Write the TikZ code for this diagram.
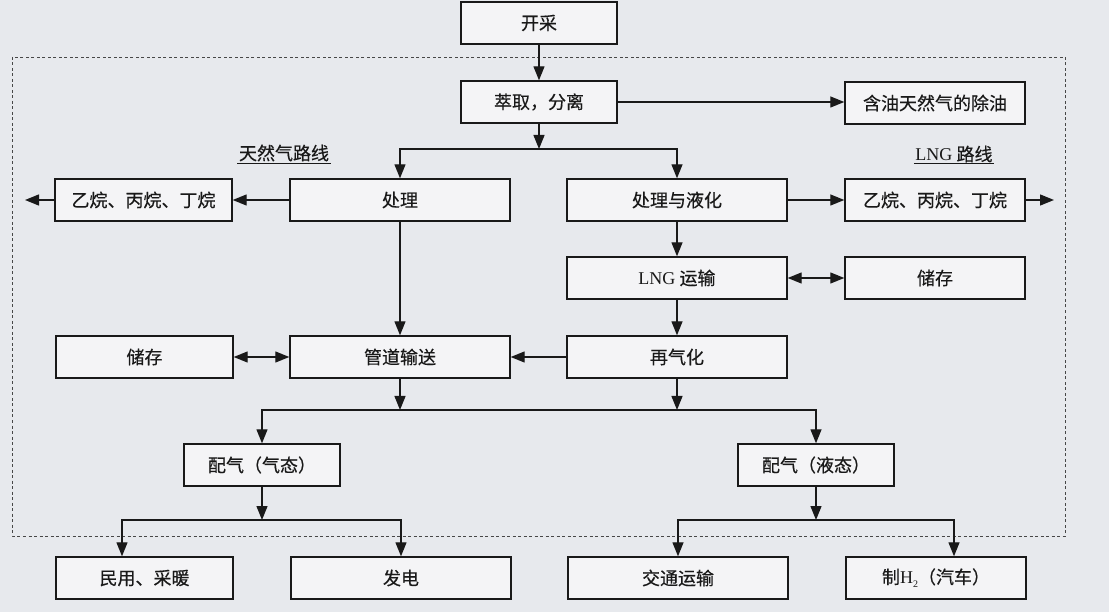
\documentclass[tikz,border=0pt]{standalone}
\usepackage{fontspec}
\setmainfont{Liberation Serif}
\newfontfamily\cjk[FakeBold=0.4]{Noto Sans CJK SC}
\usetikzlibrary{arrows.meta,calc}
\definecolor{bg}{RGB}{231,233,237}
\definecolor{boxfill}{RGB}{244,244,246}
\definecolor{ink}{RGB}{25,25,25}
\begin{document}
\begin{tikzpicture}[x=1pt,y=-1pt,
  box/.style={draw=ink,fill=boxfill,line width=1.4pt,minimum height=42pt,inner sep=0pt,
    text=ink,font=\fontsize{18}{21}\selectfont\cjk},
  wA/.style={minimum width=177pt},
  wB/.style={minimum width=220pt},
  wC/.style={minimum width=180pt},
  wD/.style={minimum width=156pt},
  lab/.style={inner sep=1.5pt,text=ink,font=\fontsize{18}{21}\selectfont\cjk},
  ln/.style={draw=ink,line width=1.3pt},
  arr/.style={draw=ink,line width=1.3pt,-{Triangle[length=14pt,width=11pt]}},
  darr/.style={draw=ink,line width=1.3pt,{Triangle[length=14pt,width=11pt]}-{Triangle[length=14pt,width=11pt]}},
  frame/.style={draw=ink!80,line width=0.9pt,dash pattern=on 3pt off 2.5pt}
]
\fill[bg] (0,0) rectangle (1109,612);
\useasboundingbox (0,0) rectangle (1109,612);

% dashed frame
\draw[frame] (12.5,57) rectangle (1065,536);

% nodes
\node[box,wD] (kc)   at (539,23)  {开采};
\node[box,wD] (cq)   at (539,102) {萃取，分离};
\node[box,wC] (cy)   at (935,103)   {含油天然气的除油};

\node[lab] (labL) at (284,153) {天然气路线};
\node[lab] (labR) at (954,154) {{\rmfamily LNG} 路线};

\node[box,wA] (ywL)  at (143.5,200) {乙烷、丙烷、丁烷};
\node[box,wB] (chuli) at (400,200)  {处理};
\node[box,wB] (clyh) at (677,200)   {处理与液化};
\node[box,wC] (ywR)  at (935,200)   {乙烷、丙烷、丁烷};

\node[box,wB] (lng)  at (677,278)   {{\rmfamily LNG} 运输};
\node[box,wC] (ccR)  at (935,278)   {储存};

\node[box,wA] (ccL)  at (144.5,357) {储存};
\node[box,wB] (gd)   at (400,357)   {管道输送};
\node[box,wB] (zqh)  at (677,357)   {再气化};

\node[box,wD] (pqG)  at (262,465) {配气（气态）};
\node[box,wD] (pqL)  at (816,465) {配气（液态）};

\node[box,wA] (my)   at (144.5,578) {民用、采暖};
\node[box,wB] (fd)   at (401,578)   {发电};
\node[box,wB] (jt)   at (678,578)   {交通运输};
\node[box,wC] (zh)   at (936,578)   {制{\rmfamily H\raisebox{-4pt}{\fontsize{10}{10}\selectfont 2}}（汽车）};

% underlines of route labels
\draw[ln,line width=1pt] (labL.south west) -- (labL.south east);
\draw[ln,line width=1pt] (labR.south west) -- (labR.south east);

% connectors
\draw[arr] (kc.south) -- (cq.north);
\draw[arr] (cq.east) -- (cq.east -| cy.west);

\coordinate (b1) at (539,149);
\draw[arr] (cq.south) -- (b1);
\draw[arr] (b1) -| (chuli.north);
\draw[arr] (b1) -| (clyh.north);

\coordinate (eL) at (25,200);
\coordinate (eR) at (1054,200);
\draw[arr] (chuli.west) -- (ywL.east);
\draw[arr] (ywL.west) -- (eL);
\draw[arr] (clyh.east) -- (ywR.west);
\draw[arr] (ywR.east) -- (eR);

\draw[arr] (clyh.south) -- (lng.north);
\draw[darr] (lng.east) -- (ccR.west);
\draw[arr] (lng.south) -- (zqh.north);

\draw[arr] (chuli.south) -- (gd.north);
\draw[arr] (zqh.west) -- (gd.east);
\draw[darr] (ccL.east) -- (gd.west);

\coordinate (b2) at (400,410);
\coordinate (b3) at (677,410);
\draw[arr] (gd.south) -- (b2);
\draw[arr] (zqh.south) -- (b3);
\draw[ln] (b2) -- (b3);
\draw[arr] (b2) -| (pqG.north);
\draw[arr] (b3) -| (pqL.north);

\coordinate (b4) at (262,520);
\coordinate (m1) at (122,520);
\coordinate (m2) at (401,520);
\draw[arr] (pqG.south) -- (b4);
\draw[arr] (b4) -- (m1) -- (m1 |- my.north);
\draw[arr] (b4) -- (m2) -- (fd.north);

\coordinate (b5) at (816,520);
\coordinate (m3) at (678,520);
\coordinate (m4) at (954,520);
\draw[arr] (pqL.south) -- (b5);
\draw[arr] (b5) -- (m3) -- (jt.north);
\draw[arr] (b5) -- (m4) -- (m4 |- zh.north);
\end{tikzpicture}
\end{document}
